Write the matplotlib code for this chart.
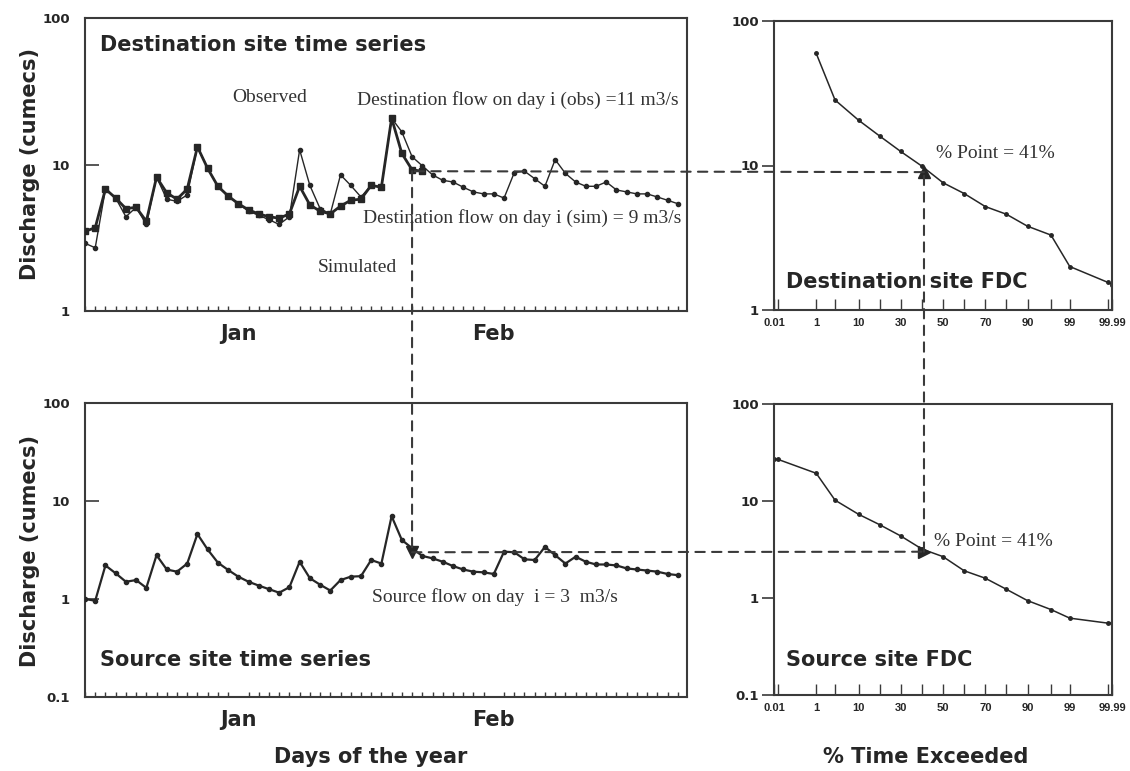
import numpy as np
import matplotlib
matplotlib.use("Agg")
import matplotlib.pyplot as plt
from matplotlib.patches import ConnectionPatch
from matplotlib.ticker import FixedLocator, NullLocator

# ---------------- data ----------------
days = np.arange(59)
month_labels = ["Jan", "Feb"]
month_centres = [15, 40]

dest_obs = [2.9, 2.7, 6.8, 5.9, 4.4, 5.1, 3.9, 8.2, 5.8, 5.6,
            6.2, 13.2, 9.4, 7.1, 6.1, 5.4, 4.8, 4.5, 4.2, 3.9,
            4.4, 12.6, 7.2, 5.0, 4.6, 8.5, 7.2, 6.0, 7.2, 7.0,
            20.7, 16.7, 11.3, 9.8, 8.5, 7.8, 7.6, 7.0, 6.5, 6.3,
            6.3, 5.9, 8.8, 9.0, 8.0, 7.1, 10.8, 8.7, 7.6, 7.1,
            7.1, 7.6, 6.7, 6.5, 6.3, 6.3, 6.0, 5.7, 5.4]
dest_sim = [3.5, 3.7, 6.8, 5.9, 5.0, 5.1, 4.1, 8.2, 6.4, 5.8,
            6.8, 13.2, 9.4, 7.1, 6.1, 5.4, 4.9, 4.6, 4.4, 4.3,
            4.6, 7.1, 5.3, 4.8, 4.6, 5.2, 5.7, 5.8, 7.2, 7.0,
            20.7, 11.9, 9.2, 9.0]
src_flow = [1.0, 0.96, 2.2, 1.83, 1.5, 1.56, 1.3, 2.8, 2.0, 1.9,
            2.3, 4.6, 3.2, 2.35, 1.98, 1.69, 1.5, 1.37, 1.26, 1.16,
            1.32, 2.4, 1.63, 1.4, 1.22, 1.56, 1.69, 1.71, 2.5, 2.3,
            7.0, 4.0, 3.3, 2.75, 2.6, 2.4, 2.17, 2.0, 1.9, 1.87,
            1.8, 3.04, 3.0, 2.54, 2.5, 3.4, 2.8, 2.3, 2.7, 2.4,
            2.25, 2.25, 2.2, 2.05, 2.0, 1.95, 1.9, 1.8, 1.75]

pct_ticks = [0.01, 1, 10, 30, 50, 70, 90, 99, 99.99]
pct_tick_labels = ["0.01", "1", "10", "30", "50", "70", "90", "99", "99.99"]
pct_minor = [0.1, 5, 20, 40, 60, 80, 95, 99.9]

dest_fdc_pct = [1, 5, 10, 20, 30, 40, 50, 60, 70, 80, 90, 95, 99, 99.9, 99.99]
dest_fdc_q = [59.6, 28.4, 20.6, 16.0, 12.5, 9.9, 7.6, 6.4, 5.2, 4.6, 3.8, 3.3, 2.0, 1.55, 1.5]
src_fdc_pct = [0.01, 0.1, 1, 5, 10, 20, 30, 40, 50, 60, 70, 80, 90, 95, 99, 99.9, 99.99]
src_fdc_q = [26.9, 26.9, 19.3, 10.2, 7.3, 5.7, 4.36, 3.2, 2.67, 1.91, 1.6, 1.23, 0.94, 0.76, 0.62, 0.55, 0.55]

day_i = 32
dest_flow_i = 9
src_flow_i = 3
pct_point = 41

# ---------------- figure ----------------
W, H = 1130, 771
fig = plt.figure(figsize=(W / 100, H / 100), dpi=100)
fig.patch.set_facecolor("white")

INK = "#262626"
SPINE = "#3a3a3a"
DASH = "#3a3a3a"
SERIF = "Liberation Serif"


def px_axes(left, top, right, bottom):
    return fig.add_axes([left / W, 1 - bottom / H, (right - left) / W, (bottom - top) / H])


ax_tl = px_axes(85, 18, 687, 311)
ax_bl = px_axes(85, 403, 687, 697)
ax_tr = px_axes(774, 21, 1112, 310)
ax_br = px_axes(774, 404, 1112, 695)

for ax in (ax_tl, ax_bl, ax_tr, ax_br):
    for s in ax.spines.values():
        s.set_linewidth(1.5)
        s.set_color(SPINE)
    ax.set_yscale("log")
    ax.yaxis.set_minor_locator(NullLocator())

# time-series axes
for ax, ylo in ((ax_tl, 1), (ax_bl, 0.1)):
    ax.set_xlim(0, 58.9)
    ax.set_ylim(ylo, 100)
    ax.xaxis.set_major_locator(FixedLocator(month_centres))
    ax.set_xticklabels(month_labels, fontweight="bold", fontsize=15, color=INK)
    ax.xaxis.set_minor_locator(FixedLocator(days))
    ax.tick_params(axis="x", which="major", length=0, pad=9)
    ax.tick_params(axis="x", which="minor", direction="in", length=3.5, width=1, color=SPINE)
    yt = [0.1, 1, 10, 100] if ylo < 1 else [1, 10, 100]
    ax.yaxis.set_major_locator(FixedLocator(yt))
    ax.set_yticklabels([("%g" % v) for v in yt], fontweight="bold", fontsize=9.5, color=INK)
    ax.tick_params(axis="y", direction="in", length=10, width=1.2, color=SPINE, pad=11)


# FDC axes: probability-like x scale
def fwd(p):
    return np.interp(p, pct_ticks, np.arange(len(pct_ticks)))


def inv(x):
    return np.interp(x, np.arange(len(pct_ticks)), pct_ticks)


for ax, ylo in ((ax_tr, 1), (ax_br, 0.1)):
    ax.set_xscale("function", functions=(fwd, inv))
    ax.set_xlim(pct_ticks[0], pct_ticks[-1])
    ax.set_ylim(ylo, 100)
    ax.xaxis.set_major_locator(FixedLocator(pct_ticks))
    ax.set_xticklabels(pct_tick_labels, fontweight="bold", fontsize=8,
                       family="Liberation Sans", color=INK)
    ax.xaxis.set_minor_locator(FixedLocator(pct_minor))
    ax.tick_params(axis="x", which="both", direction="in", length=8, width=1, color=SPINE, pad=6)
    yt = [0.1, 1, 10, 100] if ylo < 1 else [1, 10, 100]
    ax.yaxis.set_major_locator(FixedLocator(yt))
    ax.set_yticklabels([("%g" % v) for v in yt], fontweight="bold", fontsize=9.5, color=INK)
    ax.tick_params(axis="y", direction="out", length=9, width=1.2, color=SPINE, pad=2)

# ---------------- series ----------------
ax_tl.plot(days[:len(dest_obs)], dest_obs, color=INK, lw=1.0, marker="o", ms=3, zorder=3)
ax_tl.plot(days[:len(dest_sim)], dest_sim, color=INK, lw=2.0, marker="s", ms=4.5, zorder=4)
ax_bl.plot(days[:len(src_flow)], src_flow, color=INK, lw=1.6, marker="o", ms=3, zorder=3)
ax_tr.plot(dest_fdc_pct, dest_fdc_q, color=INK, lw=1.1, marker="o", ms=2.5)
ax_br.plot(src_fdc_pct, src_fdc_q, color=INK, lw=1.1, marker="o", ms=2.5)

# arrow heads
ax_bl.plot([day_i], [src_flow_i], marker="v", ms=8, color=INK, zorder=5)
ax_br.plot([pct_point], [src_flow_i], marker=">", ms=8, color=INK, zorder=5)
ax_tr.plot([pct_point], [dest_flow_i], marker="^", ms=8, color=INK, zorder=5)

# dashed connectors across panels
dash = dict(linestyle=(0, (4.5, 3.5)), linewidth=1.5, color=DASH, zorder=2)
links = [((day_i, dest_flow_i), ax_tl, (day_i, src_flow_i), ax_bl),
         ((day_i, src_flow_i), ax_bl, (pct_point, src_flow_i), ax_br),
         ((pct_point, src_flow_i), ax_br, (pct_point, dest_flow_i), ax_tr),
         ((pct_point, dest_flow_i), ax_tr, (day_i, dest_flow_i), ax_tl)]
for xyA, axA, xyB, axB in links:
    cp = ConnectionPatch(xyA=xyA, coordsA=axA.transData, xyB=xyB, coordsB=axB.transData, **dash)
    fig.add_artist(cp)

# ---------------- text ----------------
bold_kw = dict(fontweight="bold", fontsize=15, color=INK, va="center", ha="left")
ser_kw = dict(family=SERIF, fontsize=14, color="#333333", va="center", ha="left")

ax_tl.text(0.025, 0.908, "Destination site time series", transform=ax_tl.transAxes, **bold_kw)
ax_tl.text(0.244, 0.727, "Observed", transform=ax_tl.transAxes, **ser_kw)
ax_tl.text(0.452, 0.72, "Destination flow on day i (obs) =11 m3/s", transform=ax_tl.transAxes, **ser_kw)
ax_tl.text(0.462, 0.317, "Destination flow on day i (sim) = 9 m3/s", transform=ax_tl.transAxes, **ser_kw)
ax_tl.text(0.387, 0.147, "Simulated", transform=ax_tl.transAxes, **ser_kw)

ax_tr.text(0.478, 0.543, "% Point = 41%", transform=ax_tr.transAxes, **ser_kw)
ax_tr.text(0.036, 0.097, "Destination site FDC", transform=ax_tr.transAxes, **bold_kw)

ax_bl.text(0.025, 0.126, "Source site time series", transform=ax_bl.transAxes, **bold_kw)
ax_bl.text(0.477, 0.34, "Source flow on day  i = 3  m3/s", transform=ax_bl.transAxes, **ser_kw)

ax_br.text(0.472, 0.526, "% Point = 41%", transform=ax_br.transAxes, **ser_kw)
ax_br.text(0.036, 0.12, "Source site FDC", transform=ax_br.transAxes, **bold_kw)

lab_kw = dict(fontweight="bold", fontsize=15, color=INK, ha="center", va="center")
fig.text(30 / W, 1 - 164 / H, "Discharge (cumecs)", rotation=90, **lab_kw)
fig.text(30 / W, 1 - 551 / H, "Discharge (cumecs)", rotation=90, **lab_kw)
fig.text(371 / W, 1 - 757 / H, "Days of the year", **lab_kw)
fig.text(926 / W, 1 - 757 / H, "% Time Exceeded", **lab_kw)

fig.savefig("out.png", dpi=100, facecolor="white")
